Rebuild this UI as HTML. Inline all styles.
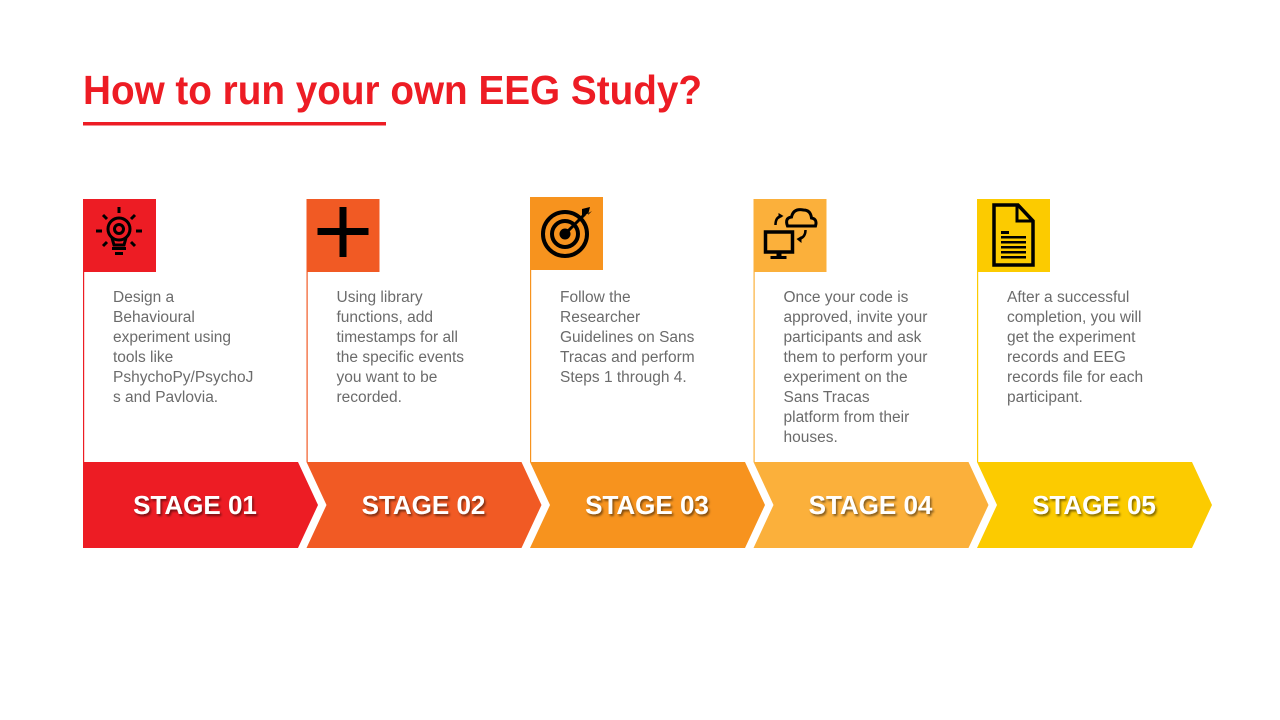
<!DOCTYPE html>
<html><head><meta charset="utf-8"><style>
html,body{margin:0;padding:0;background:#fff;width:1280px;height:720px;overflow:hidden}
svg{display:block}
.body{font-family:"Liberation Sans",Arial,sans-serif;font-size:15.5px;fill:#6b6b6b}
.stage{font-family:"Liberation Sans",Arial,sans-serif;font-weight:bold;font-size:26px;fill:#fff}
</style></head><body>
<svg width="1280" height="720" viewBox="0 0 1280 720">
<defs><filter id="sh" x="-10%" y="-30%" width="130%" height="170%"><feDropShadow dx="1.5" dy="2" stdDeviation="1" flood-color="#000" flood-opacity="0.5"/></filter></defs>
<text x="83" y="104" font-family="'Liberation Sans',Arial,sans-serif" font-weight="bold" font-size="41" fill="#ED1C24" textLength="619" lengthAdjust="spacingAndGlyphs">How to run your own EEG Study?</text>
<rect x="83" y="122" width="303" height="3.5" fill="#ED1C24"/>
<g id="stages"></g>
</svg>
<script>
const labels=["STAGE 01","STAGE 02","STAGE 03","STAGE 04","STAGE 05"];
const colors=["#ED1C24","#F15A24","#F7931E","#FBB03B","#FCCB00"];
const texts=[
["Design a","Behavioural","experiment  using","tools like","PshychoPy/PsychoJ","s and  Pavlovia."],
["Using library","functions,  add","timestamps for all","the  specific events","you want to be","recorded."],
["Follow the","Researcher","Guidelines on Sans","Tracas and perform","Steps 1 through  4."],
["Once  your  code is","approved, invite your","participants and ask","them to perform your","experiment  on the","Sans Tracas","platform from their","houses."],
["After a successful","completion,  you  will","get the experiment","records and EEG","records file for each","participant."]];
const icons=[
'<g fill="none" stroke="#000" stroke-width="3"><circle cx="36" cy="30" r="11"/><path d="M29 39 L31 46 H41 L43 39"/></g><rect x="29" y="48" width="14" height="3" fill="#000"/><rect x="32" y="53" width="8" height="3" fill="#000"/><circle cx="36" cy="30" r="4.5" fill="none" stroke="#000" stroke-width="3"/><g stroke="#000" stroke-width="3"><line x1="36" y1="8" x2="36" y2="14"/><line x1="13" y1="32" x2="19" y2="32"/><line x1="53" y1="32" x2="59" y2="32"/><line x1="20" y1="16" x2="24" y2="20"/><line x1="52" y1="16" x2="48" y2="20"/><line x1="20" y1="47" x2="24" y2="43"/><line x1="52" y1="47" x2="48" y2="43"/></g>',
'<rect x="33" y="8" width="7" height="50" fill="#000"/><rect x="11" y="29" width="51" height="7" fill="#000"/>',
'<g fill="none" stroke="#000" stroke-width="4"><circle cx="35" cy="37" r="22"/><circle cx="35" cy="37" r="13"/></g><circle cx="35" cy="37" r="5.5" fill="#000"/><line x1="35" y1="37" x2="55" y2="17" stroke="#000" stroke-width="3"/><path d="M52 12 L60 10 L58 18 L62 14 L52 20 Z" fill="#000"/>',
'<rect x="12" y="33" width="27" height="20" fill="none" stroke="#000" stroke-width="3.5"/><rect x="23" y="53" width="5" height="4" fill="#000"/><rect x="17" y="57" width="16" height="3" fill="#000"/><path d="M34 27 Q31 19 38 18 Q40 9 50 11 Q57 11 58 19 Q64 20 62 27 Z" fill="none" stroke="#000" stroke-width="3"/><path d="M22 26 Q22 18 28 17" fill="none" stroke="#000" stroke-width="2.5"/><path d="M25 14 L30 17 L25 20Z" fill="#000"/><path d="M52 31 Q52 38 46 40" fill="none" stroke="#000" stroke-width="2.5"/><path d="M48 37 L43 40 L48 44Z" fill="#000"/>',
'<path d="M17 6 H41 L56 22 V66 H17 Z" fill="none" stroke="#000" stroke-width="3.5"/><path d="M40 6 V22 H56" fill="none" stroke="#000" stroke-width="3"/><g fill="#000"><rect x="24" y="32" width="8" height="3"/><rect x="24" y="37" width="25" height="2.5"/><rect x="24" y="42" width="25" height="2.5"/><rect x="24" y="47" width="25" height="2.5"/><rect x="24" y="52" width="25" height="2.5"/><rect x="24" y="57" width="25" height="2.5"/></g>'];
const NS="http://www.w3.org/2000/svg";
const stagesGroup=document.getElementById('stages');
const x0=83,step=223.5,bandW=215,depth=20,bandTop=462,bandBot=548;
labels.forEach((lab,i)=>{
 const x=x0+i*step, c=colors[i], iy=(i===2?197:199);
 const col=document.createElementNS(NS,'g');
 
 
 const line=document.createElementNS(NS,'rect');
 line.setAttribute('x',x);line.setAttribute('y',iy+72);line.setAttribute('width',1.2);line.setAttribute('height',bandTop-iy-72);line.setAttribute('fill',c);
 
 
 col.appendChild(line);
 const box=document.createElementNS(NS,'g');
 box.setAttribute('transform',`translate(${x},${iy})`);
 
 
 box.innerHTML=`<rect width="73" height="73" fill="${c}"/>`+icons[i];
 col.appendChild(box);
 const t=document.createElementNS(NS,'text');
 t.setAttribute('class','body');
 
 
 texts[i].forEach((ln,k)=>{const s=document.createElementNS(NS,'tspan');s.setAttribute('x',x+30);s.setAttribute('y',302+k*20);s.textContent=ln;t.appendChild(s);});
 col.appendChild(t);
 const mid=(bandTop+bandBot)/2;
 let d=`M${x} ${bandTop} H${x+bandW} L${x+bandW+depth} ${mid} L${x+bandW} ${bandBot} H${x} `;
 d+= i===0?'Z':`L${x+depth} ${mid} Z`;
 const p=document.createElementNS(NS,'path');
 p.setAttribute('d',d);p.setAttribute('fill',c);
 
 
 col.appendChild(p);
 const st=document.createElementNS(NS,'text');
 st.setAttribute('class','stage');st.setAttribute('x',x+112+(i?5:0));st.setAttribute('y',514);st.setAttribute('text-anchor','middle');st.setAttribute('filter','url(#sh)');
 
 
 st.textContent=lab;
 col.appendChild(st);
 stagesGroup.appendChild(col);
});
</script>
</body></html>
